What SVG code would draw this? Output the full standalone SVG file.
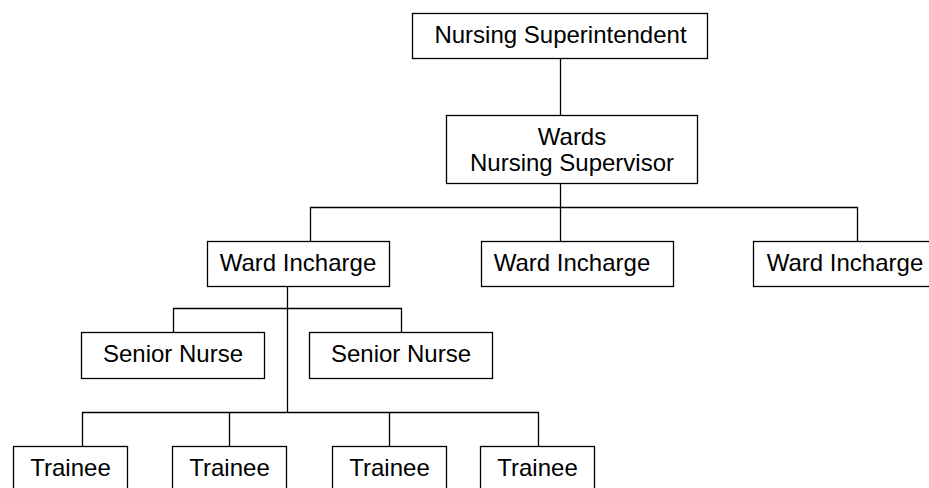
<svg xmlns="http://www.w3.org/2000/svg" width="929" height="488" viewBox="0 0 929 488">
<style>
  .box { fill: #ffffff; stroke: #000000; stroke-width: 1.3; }
  .lbl { font-family: "Liberation Sans", Arial, sans-serif; font-size: 24px; fill: #000000; text-anchor: middle; }
  .conn { fill: none; stroke: #000000; stroke-width: 1.3; }
</style>
<rect width="929" height="488" fill="#ffffff"/>
<g id="connectors" class="conn">
  <path d="M560.5,58.5 V115.5"/>
  <path d="M560.5,183.5 V207.5"/>
  <path d="M310.5,241.5 V207.5 H857.5 V241.5"/>
  <path d="M560.5,207.5 V241.5"/>
  <path d="M287.5,286.5 V412.5"/>
  <path d="M173.5,332.5 V308.5 H401.5 V332.5"/>
  <path d="M82.5,446.5 V412.5 H538.5 V446.5"/>
  <path d="M229.5,412.5 V446.5"/>
  <path d="M389.5,412.5 V446.5"/>
</g>
<g id="nursing-superintendent">
  <rect class="box" x="412.5" y="13.5" width="295" height="45"/>
  <text class="lbl" x="560.5" y="43">Nursing Superintendent</text>
</g>
<g id="wards-nursing-supervisor">
  <rect class="box" x="446.5" y="115.5" width="251" height="68"/>
  <text class="lbl" x="572" y="145">Wards</text>
  <text class="lbl" x="572" y="171">Nursing Supervisor</text>
</g>
<g id="ward-incharge-1">
  <rect class="box" x="207.5" y="241.5" width="182" height="45"/>
  <text class="lbl" x="298" y="271">Ward Incharge</text>
</g>
<g id="ward-incharge-2">
  <rect class="box" x="481.5" y="241.5" width="192" height="45"/>
  <text class="lbl" x="572" y="271">Ward Incharge</text>
</g>
<g id="ward-incharge-3">
  <rect class="box" x="753.5" y="241.5" width="183" height="45"/>
  <text class="lbl" x="845" y="271">Ward Incharge</text>
</g>
<g id="senior-nurse-1">
  <rect class="box" x="81.5" y="332.5" width="183" height="46"/>
  <text class="lbl" x="173" y="362">Senior Nurse</text>
</g>
<g id="senior-nurse-2">
  <rect class="box" x="309.5" y="332.5" width="183" height="46"/>
  <text class="lbl" x="401" y="362">Senior Nurse</text>
</g>
<g id="trainee-1">
  <rect class="box" x="13.5" y="446.5" width="114" height="48"/>
  <text class="lbl" x="70.5" y="476">Trainee</text>
</g>
<g id="trainee-2">
  <rect class="box" x="172.5" y="446.5" width="114" height="48"/>
  <text class="lbl" x="229.5" y="476">Trainee</text>
</g>
<g id="trainee-3">
  <rect class="box" x="332.5" y="446.5" width="114" height="48"/>
  <text class="lbl" x="389.5" y="476">Trainee</text>
</g>
<g id="trainee-4">
  <rect class="box" x="480.5" y="446.5" width="114" height="48"/>
  <text class="lbl" x="537.5" y="476">Trainee</text>
</g>
</svg>
